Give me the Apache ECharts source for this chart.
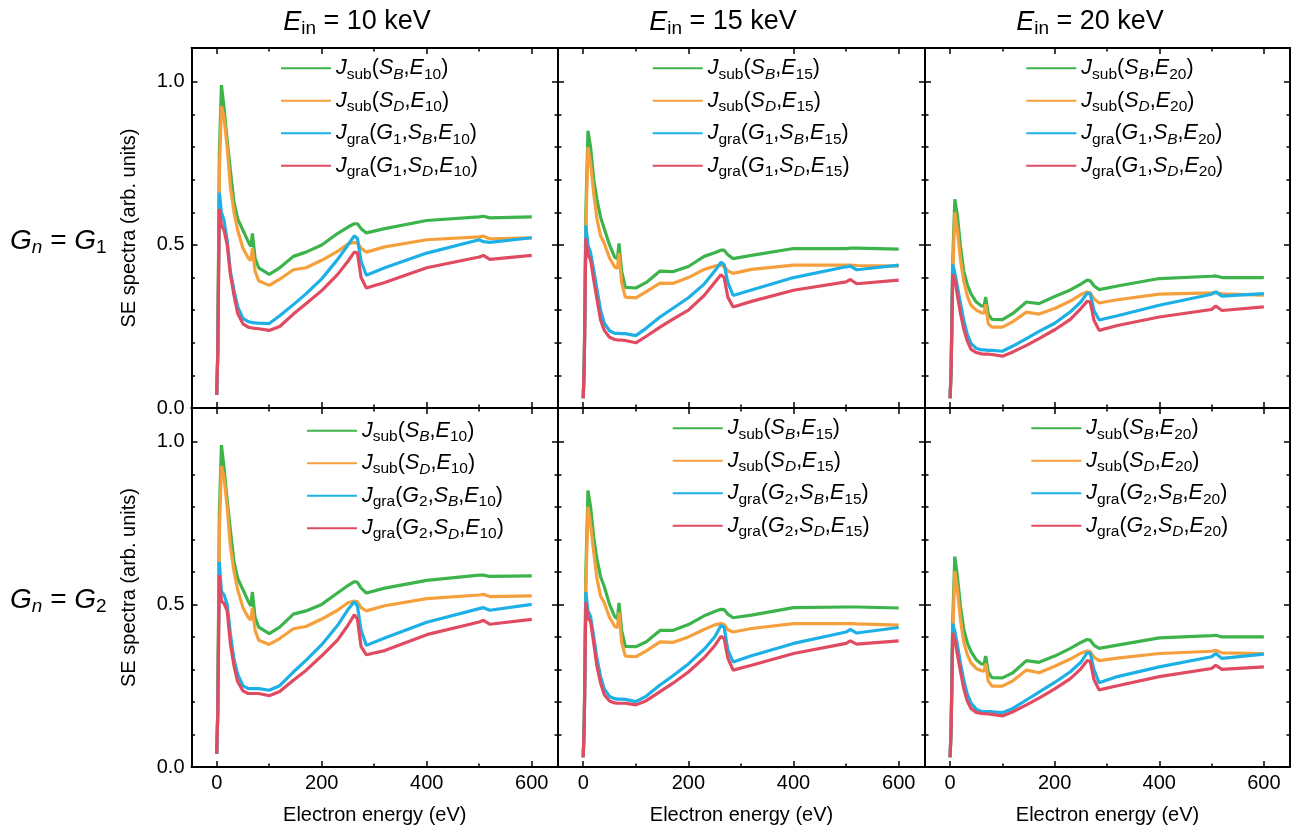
<!DOCTYPE html>
<html><head><meta charset="utf-8">
<script src="https://cdn.jsdelivr.net/npm/echarts@6/dist/echarts.min.js"></script>
<style>html,body{margin:0;padding:0;background:#fff}#c{width:1296px;height:835px}</style>
</head><body><div id="c"></div>
<script>
// ---------- data ----------
const ENERGY = [0,2,5,9,14,20,26,33,40,50,60,65,68,73,80,100,120,146,170,200,230,250,262,268,275,285,320,400,500,508,520,600];
const X_TICKS = [0,200,400,600];
const X_MINOR = [100,300,500];
const Y_TICKS = [0,0.5,1.0];
const Y_MINOR = [0.1,0.2,0.3,0.4,0.6,0.7,0.8,0.9];
const E_IN = ['10','15','20'];
const G_N = ['1','2'];

// G1, E10
const SUB_SB_G1_E10 = [0.04,0.17,0.78,0.99,0.92,0.82,0.73,0.63,0.58,0.545,0.51,0.495,0.535,0.46,0.43,0.41,0.43,0.465,0.478,0.50,0.535,0.555,0.565,0.565,0.55,0.537,0.55,0.575,0.586,0.588,0.583,0.586];
const SUB_SD_G1_E10 = [0.04,0.17,0.72,0.925,0.89,0.80,0.68,0.60,0.545,0.49,0.46,0.452,0.49,0.42,0.39,0.376,0.395,0.424,0.43,0.453,0.48,0.503,0.508,0.506,0.49,0.478,0.494,0.516,0.525,0.527,0.519,0.522];
const GRA_SB_G1_E10 = [0.04,0.17,0.66,0.60,0.575,0.514,0.42,0.36,0.31,0.275,0.265,0.263,0.262,0.261,0.26,0.259,0.283,0.317,0.35,0.396,0.455,0.50,0.528,0.52,0.45,0.407,0.43,0.475,0.516,0.51,0.508,0.522];
const GRA_SD_G1_E10 = [0.04,0.16,0.61,0.56,0.545,0.50,0.41,0.345,0.29,0.258,0.248,0.246,0.245,0.244,0.243,0.238,0.25,0.288,0.32,0.36,0.409,0.45,0.478,0.475,0.40,0.368,0.385,0.43,0.463,0.468,0.456,0.468];
// G2, E10
const SUB_SB_G2_E10 = [0.04,0.17,0.78,0.99,0.92,0.82,0.73,0.63,0.58,0.545,0.51,0.495,0.538,0.46,0.43,0.41,0.43,0.47,0.48,0.50,0.535,0.558,0.57,0.568,0.55,0.535,0.55,0.574,0.59,0.59,0.586,0.588];
const SUB_SD_G2_E10 = [0.04,0.17,0.72,0.925,0.89,0.80,0.68,0.60,0.545,0.49,0.46,0.452,0.49,0.42,0.39,0.377,0.395,0.425,0.432,0.455,0.482,0.505,0.51,0.508,0.49,0.48,0.496,0.518,0.529,0.531,0.524,0.526];
const GRA_SB_G2_E10 = [0.04,0.17,0.63,0.54,0.53,0.50,0.41,0.33,0.285,0.25,0.241,0.241,0.241,0.241,0.241,0.236,0.25,0.292,0.328,0.376,0.435,0.484,0.508,0.495,0.42,0.374,0.397,0.445,0.487,0.49,0.482,0.50];
const GRA_SD_G2_E10 = [0.04,0.16,0.59,0.51,0.503,0.48,0.38,0.31,0.262,0.234,0.226,0.226,0.226,0.226,0.226,0.219,0.232,0.267,0.297,0.342,0.39,0.436,0.468,0.455,0.37,0.345,0.358,0.407,0.446,0.451,0.439,0.454];
// G1, E15
const SUB_SB_G1_E15 = [0.03,0.14,0.60,0.85,0.80,0.70,0.64,0.585,0.55,0.50,0.462,0.458,0.505,0.42,0.37,0.368,0.385,0.42,0.418,0.434,0.465,0.476,0.484,0.484,0.47,0.458,0.468,0.489,0.489,0.49,0.49,0.487];
const SUB_SD_G1_E15 = [0.03,0.14,0.55,0.80,0.75,0.657,0.58,0.528,0.505,0.46,0.432,0.428,0.475,0.385,0.34,0.338,0.357,0.383,0.382,0.40,0.425,0.435,0.438,0.435,0.42,0.413,0.425,0.438,0.438,0.438,0.437,0.435];
const GRA_SB_G1_E15 = [0.03,0.14,0.56,0.50,0.476,0.422,0.365,0.30,0.26,0.237,0.229,0.229,0.229,0.228,0.228,0.222,0.245,0.279,0.305,0.338,0.38,0.42,0.447,0.44,0.385,0.345,0.362,0.40,0.433,0.435,0.424,0.438];
const GRA_SD_G1_E15 = [0.03,0.14,0.52,0.47,0.455,0.392,0.335,0.27,0.238,0.217,0.21,0.209,0.208,0.208,0.207,0.20,0.22,0.248,0.272,0.30,0.345,0.385,0.409,0.40,0.34,0.31,0.327,0.361,0.387,0.394,0.381,0.392];
// G2, E15
const SUB_SB_G2_E15 = [0.03,0.14,0.60,0.85,0.80,0.706,0.64,0.585,0.555,0.50,0.462,0.456,0.505,0.42,0.371,0.37,0.385,0.42,0.42,0.438,0.465,0.478,0.485,0.484,0.47,0.459,0.467,0.49,0.492,0.492,0.492,0.489];
const SUB_SD_G2_E15 = [0.03,0.14,0.55,0.80,0.745,0.66,0.58,0.525,0.505,0.46,0.432,0.429,0.475,0.385,0.341,0.339,0.357,0.385,0.383,0.40,0.423,0.437,0.441,0.438,0.422,0.415,0.426,0.441,0.441,0.441,0.44,0.436];
const GRA_SB_G2_E15 = [0.03,0.14,0.538,0.48,0.462,0.40,0.335,0.278,0.24,0.217,0.21,0.209,0.209,0.209,0.208,0.201,0.218,0.252,0.28,0.317,0.362,0.40,0.435,0.43,0.36,0.323,0.342,0.38,0.415,0.423,0.412,0.429];
const GRA_SD_G2_E15 = [0.03,0.14,0.507,0.458,0.447,0.38,0.31,0.258,0.222,0.203,0.197,0.196,0.196,0.196,0.196,0.191,0.204,0.232,0.257,0.292,0.336,0.373,0.402,0.395,0.335,0.298,0.313,0.349,0.38,0.388,0.378,0.388];
// G1, E20
const SUB_SB_G1_E20 = [0.03,0.12,0.45,0.64,0.59,0.494,0.42,0.378,0.35,0.325,0.313,0.312,0.34,0.288,0.272,0.271,0.29,0.325,0.32,0.342,0.362,0.38,0.392,0.39,0.375,0.363,0.374,0.397,0.404,0.405,0.40,0.40];
const SUB_SD_G1_E20 = [0.03,0.12,0.40,0.60,0.545,0.453,0.39,0.343,0.315,0.30,0.292,0.291,0.318,0.258,0.248,0.248,0.265,0.294,0.288,0.305,0.328,0.348,0.356,0.353,0.335,0.322,0.332,0.349,0.353,0.354,0.35,0.346];
const GRA_SB_G1_E20 = [0.03,0.12,0.44,0.415,0.372,0.32,0.27,0.225,0.198,0.183,0.178,0.178,0.178,0.177,0.177,0.174,0.19,0.213,0.235,0.26,0.295,0.325,0.352,0.35,0.30,0.27,0.283,0.315,0.349,0.356,0.343,0.351];
const GRA_SD_G1_E20 = [0.03,0.12,0.41,0.395,0.345,0.289,0.243,0.205,0.18,0.17,0.166,0.165,0.165,0.165,0.164,0.159,0.172,0.192,0.213,0.24,0.272,0.305,0.327,0.325,0.27,0.238,0.253,0.279,0.302,0.313,0.299,0.31];
// G2, E20
const SUB_SB_G2_E20 = [0.03,0.12,0.45,0.647,0.585,0.492,0.425,0.382,0.355,0.33,0.317,0.316,0.341,0.292,0.275,0.274,0.29,0.327,0.322,0.341,0.365,0.383,0.392,0.39,0.375,0.365,0.375,0.397,0.404,0.405,0.40,0.40];
const SUB_SD_G2_E20 = [0.03,0.12,0.40,0.602,0.545,0.451,0.385,0.345,0.32,0.303,0.296,0.295,0.318,0.264,0.249,0.249,0.265,0.298,0.29,0.31,0.332,0.35,0.357,0.355,0.338,0.327,0.335,0.349,0.356,0.359,0.351,0.349];
const GRA_SB_G2_E20 = [0.03,0.12,0.441,0.418,0.375,0.318,0.268,0.224,0.197,0.178,0.171,0.17,0.17,0.17,0.17,0.167,0.18,0.206,0.23,0.26,0.293,0.322,0.351,0.35,0.30,0.259,0.278,0.308,0.339,0.349,0.334,0.347];
const GRA_SD_G2_E20 = [0.03,0.12,0.412,0.392,0.345,0.293,0.242,0.202,0.18,0.168,0.165,0.164,0.163,0.163,0.162,0.157,0.17,0.191,0.212,0.24,0.272,0.302,0.327,0.325,0.27,0.237,0.25,0.278,0.303,0.313,0.30,0.308];

// ---------- layout ----------
const FONT = '"Liberation Sans", Arial, Helvetica, sans-serif';
const COLORS = ['#3cb44b', '#f5a03c', '#1db0e6', '#e04b62'];
const X_MIN = -48, X_MAX = 650, Y_MIN = 0, Y_MAX = 1.104;
const COL_LEFT = [191.5, 558, 925], COL_W = [366.5, 367, 365];
const ROW_TOP = [48, 408], ROW_H = [360, 359];
const LEG_POS = [[[280, 54.3], [651.7, 54.3], [1025.3, 54.3]], [[306, 416.7], [671.7, 414.3], [1030.3, 414.3]]];
const TITLE_X = [357, 723, 1090];

const SERIES_DATA = {
  '1': {'10': [SUB_SB_G1_E10, SUB_SD_G1_E10, GRA_SB_G1_E10, GRA_SD_G1_E10],
        '15': [SUB_SB_G1_E15, SUB_SD_G1_E15, GRA_SB_G1_E15, GRA_SD_G1_E15],
        '20': [SUB_SB_G1_E20, SUB_SD_G1_E20, GRA_SB_G1_E20, GRA_SD_G1_E20]},
  '2': {'10': [SUB_SB_G2_E10, SUB_SD_G2_E10, GRA_SB_G2_E10, GRA_SD_G2_E10],
        '15': [SUB_SB_G2_E15, SUB_SD_G2_E15, GRA_SB_G2_E15, GRA_SD_G2_E15],
        '20': [SUB_SB_G2_E20, SUB_SD_G2_E20, GRA_SB_G2_E20, GRA_SD_G2_E20]}
};

function legendRich(k, g, e) {
  if (k === 0) return '{i|J}{s|sub}{n|(}{i|S}{si|B}{n|,}{i|E}{s|' + e + '}{n|)}';
  if (k === 1) return '{i|J}{s|sub}{n|(}{i|S}{si|D}{n|,}{i|E}{s|' + e + '}{n|)}';
  if (k === 2) return '{i|J}{s|gra}{n|(}{i|G}{s|' + g + '}{n|,}{i|S}{si|B}{n|,}{i|E}{s|' + e + '}{n|)}';
  return '{i|J}{s|gra}{n|(}{i|G}{s|' + g + '}{n|,}{i|S}{si|D}{n|,}{i|E}{s|' + e + '}{n|)}';
}
const LEG_RICH = {
  i: {fontSize: 21.5, fontStyle: 'italic', fontFamily: FONT, color: '#000', lineHeight: 30},
  n: {fontSize: 21.5, fontFamily: FONT, color: '#000', lineHeight: 30},
  s: {fontSize: 15.5, fontFamily: FONT, color: '#000', lineHeight: 30, padding: [12, 0, 0, 0]},
  si: {fontSize: 15.5, fontStyle: 'italic', fontFamily: FONT, color: '#000', lineHeight: 30, padding: [12, 0, 0, 0]}
};

const grids = [], xAxes = [], yAxes = [], series = [], legends = [], LEG_TEXT = {};
const axLine = {show: true, onZero: false, lineStyle: {color: '#000', width: 2}};
const noLine = {show: false, onZero: false};
function tick(vals, len) { return {show: true, inside: true, length: len, customValues: vals, lineStyle: {color: '#000', width: 1.5}}; }

let gi = 0;
G_N.forEach((g, row) => {
  E_IN.forEach((e, col) => {
    grids.push({left: COL_LEFT[col], top: ROW_TOP[row], width: COL_W[col], height: ROW_H[row], containLabel: false});
    const xb = {type: 'value', gridIndex: gi, min: X_MIN, max: X_MAX, splitLine: {show: false}};
    const yb = {type: 'value', gridIndex: gi, min: Y_MIN, max: Y_MAX, splitLine: {show: false}};
    const showX = row === 1, showY = col === 0;
    xAxes.push(Object.assign({}, xb, {position: 'bottom', axisLine: axLine, axisTick: tick(X_TICKS, 6),
      axisLabel: {show: showX, customValues: X_TICKS, fontSize: 20, fontFamily: FONT, color: '#000', margin: 6, formatter: v => String(v)},
      name: showX ? 'Electron energy (eV)' : '', nameLocation: 'middle', nameGap: 38,
      nameTextStyle: {fontSize: 20, fontFamily: FONT, color: '#000'}}));
    xAxes.push(Object.assign({}, xb, {position: 'bottom', axisLine: noLine, axisTick: tick(X_MINOR, 3.5), axisLabel: {show: false}}));
    xAxes.push(Object.assign({}, xb, {position: 'top', axisLine: axLine, axisTick: tick(X_TICKS, 6), axisLabel: {show: false}}));
    xAxes.push(Object.assign({}, xb, {position: 'top', axisLine: noLine, axisTick: tick(X_MINOR, 3.5), axisLabel: {show: false}}));
    yAxes.push(Object.assign({}, yb, {position: 'left', axisLine: axLine, axisTick: tick(Y_TICKS, 6),
      axisLabel: {show: showY, customValues: Y_TICKS, fontSize: 20, fontFamily: FONT, color: '#000', margin: 7, formatter: v => v.toFixed(1)},
      name: showY ? 'SE spectra (arb. units)' : '', nameLocation: 'middle', nameGap: 52,
      nameTextStyle: {fontSize: 20, fontFamily: FONT, color: '#000'}}));
    yAxes.push(Object.assign({}, yb, {position: 'left', axisLine: noLine, axisTick: tick(Y_MINOR, 3.5), axisLabel: {show: false}}));
    yAxes.push(Object.assign({}, yb, {position: 'right', axisLine: axLine, axisTick: tick(Y_TICKS, 6), axisLabel: {show: false}}));
    yAxes.push(Object.assign({}, yb, {position: 'right', axisLine: noLine, axisTick: tick(Y_MINOR, 3.5), axisLabel: {show: false}}));

    const names = [];
    SERIES_DATA[g][e].forEach((vals, k) => {
      const name = 'p' + gi + 's' + k;
      names.push(name);
      LEG_TEXT[name] = legendRich(k, g, e);
      series.push({
        type: 'line', name: name, xAxisIndex: gi * 4, yAxisIndex: gi * 4,
        data: ENERGY.map((x, i) => [x, vals[i]]),
        symbol: 'none', showSymbol: false, clip: true,
        lineStyle: {color: COLORS[k], width: 3.2},
        itemStyle: {color: COLORS[k]},
        z: 2 + k
      });
    });
    const lp = LEG_POS[row][col];
    legends.push({
      data: names, orient: 'vertical', left: lp[0], top: lp[1], padding: 0,
      itemWidth: 50, itemHeight: 14, itemGap: 4.5, selectedMode: false,
      lineStyle: {width: 2},
      itemStyle: {opacity: 0},
      formatter: n => LEG_TEXT[n],
      textStyle: {fontSize: 21.5, fontFamily: FONT, color: '#000', rich: LEG_RICH}
    });
    gi++;
  });
});

const TITLE_RICH = {
  i: {fontSize: 27, fontStyle: 'italic', fontFamily: FONT, fill: '#000'},
  n: {fontSize: 27, fontFamily: FONT, fill: '#000'},
  s: {fontSize: 19, fontFamily: FONT, fill: '#000', padding: [14, 0, 0, 0]}
};
const GN_RICH = {
  i: {fontSize: 28, fontStyle: 'italic', fontFamily: FONT, fill: '#000'},
  n: {fontSize: 28, fontFamily: FONT, fill: '#000'},
  s: {fontSize: 19, fontFamily: FONT, fill: '#000', padding: [14, 0, 0, 0]},
  si: {fontSize: 19, fontStyle: 'italic', fontFamily: FONT, fill: '#000', padding: [14, 0, 0, 0]}
};
const graphics = [];
E_IN.forEach((e, col) => {
  graphics.push({type: 'text', x: TITLE_X[col], y: 22, style: {text: '{i|E}{s|in}{n| = ' + e + ' keV}', rich: TITLE_RICH, align: 'center', verticalAlign: 'middle'}});
});
const GN_Y = [241, 600];
G_N.forEach((g, row) => {
  graphics.push({type: 'text', x: 10, y: GN_Y[row], style: {text: '{i|G}{si|n}{n| = }{i|G}{s|' + g + '}', rich: GN_RICH, align: 'left', verticalAlign: 'middle'}});
});

const chart = echarts.init(document.getElementById('c'), null, {renderer: 'canvas'});
chart.setOption({
  animation: false,
  backgroundColor: '#fff',
  grid: grids, xAxis: xAxes, yAxis: yAxes, series: series, legend: legends,
  graphic: graphics
});
</script></body></html>
